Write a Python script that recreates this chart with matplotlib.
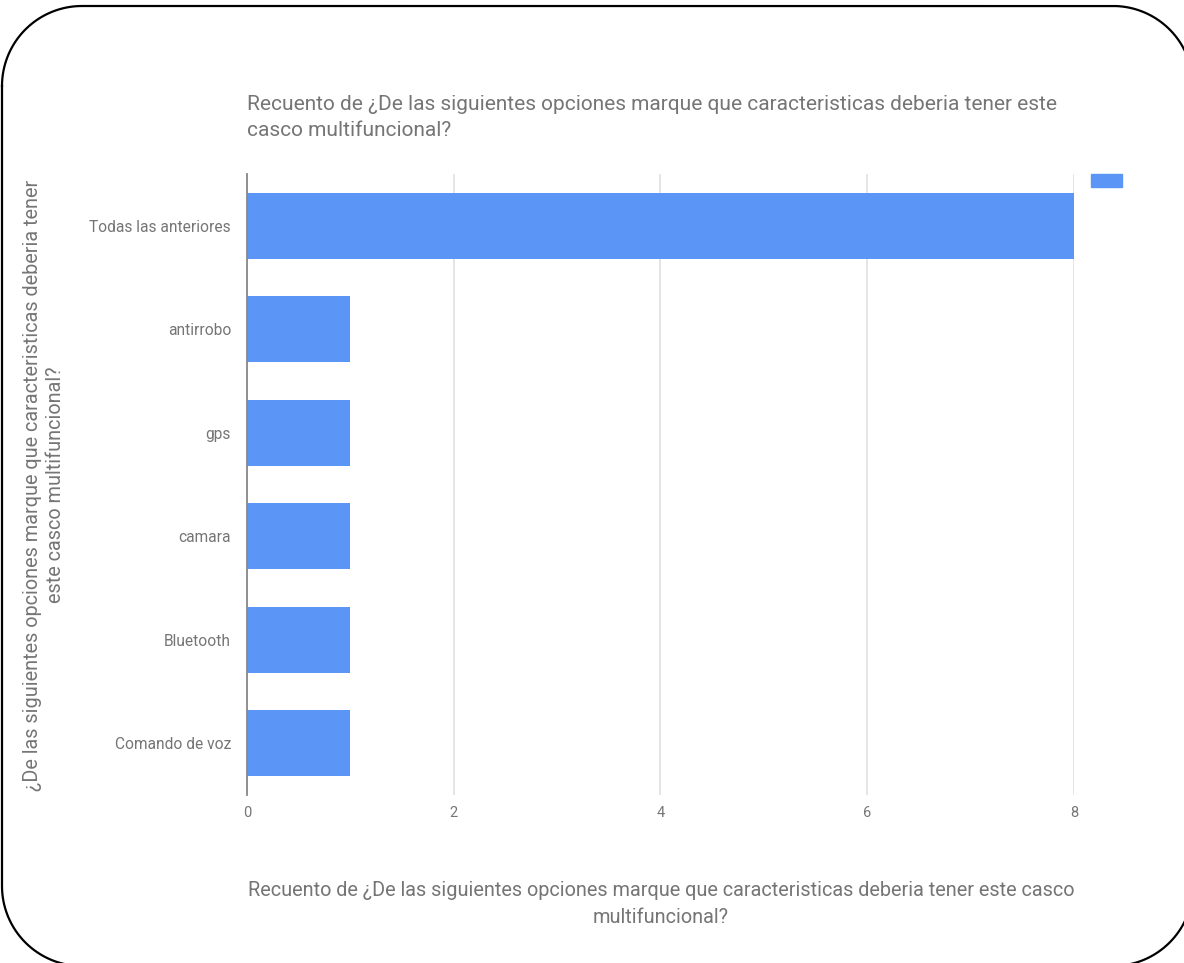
import numpy as np
import matplotlib.pyplot as plt
from matplotlib.lines import Line2D
from matplotlib.patches import Patch

plt.rcParams['font.family'] = ['Roboto', 'DejaVu Sans']

categories = ['Todas las anteriores', 'antirrobo', 'gps', 'camara', 'Bluetooth', 'Comando de voz']
counts = [8, 1, 1, 1, 1, 1]
x_ticks = [0, 2, 4, 6, 8]

title = 'Recuento de ¿De las siguientes opciones marque que caracteristicas deberia tener este\ncasco multifuncional?'
x_label = 'Recuento de ¿De las siguientes opciones marque que caracteristicas deberia tener este casco\nmultifuncional?'
y_label = '¿De las siguientes opciones marque que caracteristicas deberia tener\neste casco multifuncional?'

bar_color = '#5b96f6'
text_grey = '#757575'

W, H = 1184, 963
fig = plt.figure(figsize=(W / 100, H / 100), dpi=100)
ax = fig.add_axes([0.2086, 0.1745, 0.6985, 0.6448])

y_pos = list(range(len(categories)))
ax.barh(y_pos, counts, height=0.64, color=bar_color, zorder=3)
ax.set_ylim(len(categories) - 0.5, -0.5)
ax.set_xlim(0, 8)

ax.set_yticks(y_pos)
ax.set_yticklabels(categories, fontsize=11.2, color=text_grey)
ax.set_xticks(x_ticks)
ax.set_xticklabels([str(t) for t in x_ticks], fontsize=10.5, color=text_grey)
ax.tick_params(axis='x', length=0, pad=8)
ax.tick_params(axis='y', length=0, pad=11.5)

ax.grid(axis='x', color='#e0e0e0', linewidth=1.2, zorder=0)
for s in ['top', 'right', 'bottom']:
    ax.spines[s].set_visible(False)
ax.spines['left'].set_color('#888888')
ax.spines['left'].set_linewidth(1.3)
ax.spines['left'].set_zorder(4)

fig.text(247 / W, 1 - 95 / H, title, fontsize=15, color=text_grey,
         ha='left', va='top', linespacing=1.45)
fig.text(661 / W, 1 - 881 / H, x_label, fontsize=14.3, color=text_grey,
         ha='center', va='top', linespacing=1.5)
fig.text(44 / W, 1 - 485 / H, y_label, fontsize=14.3, color=text_grey,
         ha='center', va='center', rotation=90, linespacing=1.25)

ax.legend(handles=[Patch(color=bar_color)], labels=[''], loc='upper left',
          bbox_to_anchor=(1.021, 1.0), frameon=False, handlelength=2.2,
          handleheight=1.1, borderpad=0, borderaxespad=0)

# rounded frame around the whole chart (pixel coords, y down)
x0, x1, y0, y1, r = 2, 1193, 6, 966, 80
t = np.linspace(0, np.pi / 2, 40)
pts = []
pts += list(zip(x0 + r - r * np.cos(t), y0 + r - r * np.sin(t)))
pts += list(zip(x1 - r + r * np.sin(t), y0 + r - r * np.cos(t)))
pts += list(zip(x1 - r + r * np.cos(t), y1 - r + r * np.sin(t)))
pts += list(zip(x0 + r - r * np.sin(t), y1 - r + r * np.cos(t)))
pts.append(pts[0])
px = np.array([p[0] for p in pts]) / W
py = 1 - np.array([p[1] for p in pts]) / H
fig.add_artist(Line2D(px, py, transform=fig.transFigure, color='black', linewidth=1.6))

fig.savefig('out.png', dpi=100)
